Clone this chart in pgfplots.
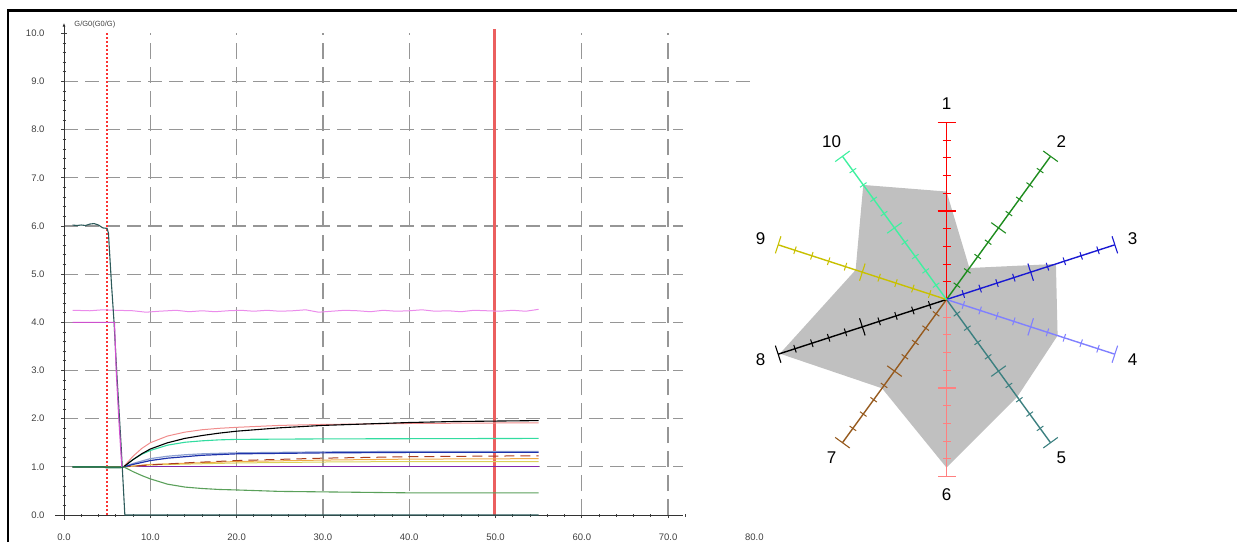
\documentclass[border=0pt]{standalone}
\usepackage{fontspec}
\setmainfont{Liberation Sans}
\usepackage{pgfplots}
\pgfplotsset{compat=1.18}
\usepgfplotslibrary{polar}
\usetikzlibrary{arrows.meta}

\definecolor{cteal}{RGB}{45,90,90}
\definecolor{cmag}{RGB}{205,80,205}
\definecolor{cpinkw}{RGB}{235,140,235}
\definecolor{csalmon}{RGB}{240,140,140}
\definecolor{cspring}{RGB}{50,220,160}
\definecolor{cdblue}{RGB}{30,50,170}
\definecolor{csteel}{RGB}{140,160,210}
\definecolor{cbrown}{RGB}{170,60,30}
\definecolor{corange}{RGB}{240,170,70}
\definecolor{cyellow}{RGB}{220,210,90}
\definecolor{cpurple}{RGB}{130,40,170}
\definecolor{cgreen}{RGB}{90,160,90}
\definecolor{cdgreen}{RGB}{40,120,80}
\definecolor{cgrid}{RGB}{150,150,150}
\definecolor{cred50}{RGB}{235,95,95}
\definecolor{cdotred}{RGB}{250,50,50}
% radar colours
\definecolor{r1}{RGB}{255,0,0}
\definecolor{r2}{RGB}{30,140,30}
\definecolor{r3}{RGB}{25,25,210}
\definecolor{r4}{RGB}{128,128,255}
\definecolor{r5}{RGB}{60,128,128}
\definecolor{r6}{RGB}{255,128,128}
\definecolor{r7}{RGB}{150,90,30}
\definecolor{r8}{RGB}{0,0,0}
\definecolor{r9}{RGB}{200,192,0}
\definecolor{r10}{RGB}{64,240,160}
\definecolor{cpoly}{RGB}{192,192,192}

\newcommand{\spoke}[2]{%
  \addplot[#2, line width=1.4pt] coordinates {(#1,0) (#1,1)};
  \addplot[#2, only marks, mark=|, mark size=4pt, mark options={rotate=#1, line width=1pt}]
    coordinates {(#1,0.1) (#1,0.2) (#1,0.3) (#1,0.4) (#1,0.6) (#1,0.7) (#1,0.8) (#1,0.9)};
  \addplot[#2, only marks, mark=|, mark size=9pt, mark options={rotate=#1, line width=1.1pt}]
    coordinates {(#1,0.5) (#1,1)};
}

\begin{document}
\begin{tikzpicture}
\path[use as bounding box] (0pt,0pt) rectangle (1237pt,542pt);
\draw[line width=2.7pt] (8pt,0pt) -- (8pt,531.5pt) -- (1237pt,531.5pt);

\begin{axis}[
  at={(64pt,27pt)}, anchor=south west,
  scale only axis, width=690.4pt, height=481.7pt,
  xmin=0, xmax=80, ymin=0, ymax=10,
  clip=false,
  axis line style={draw=none},
  xtick={0,10,...,70}, extra x ticks={80}, extra x tick style={major tick style={draw=none}},
  ytick={0,1,...,10},
  minor xtick={2,4,6,8,12,14,16,18,22,24,26,28,32,34,36,38,42,44,46,48,52,54,56,58,62,64,66,68,72},
  minor y tick num=4,
  xtick pos=bottom, ytick pos=left,
  tick align=center, major tick length=6pt, minor tick length=3pt,
  tick style={black!75, line width=0.8pt},
  xticklabel style={font=\fontsize{9.5}{10}\selectfont, text=black!75, yshift=-12pt},
  yticklabel style={font=\fontsize{9.5}{10}\selectfont, text=black!75, xshift=-13pt},
  /pgf/number format/.cd, fixed, fixed zerofill, precision=1, assume math mode=true
]
% grid
\pgfplotsinvokeforeach{1,2,3,4,5,6,7,8}{
  \draw[cgrid, line width=1.3pt, dash pattern=on 14pt off 7pt] (axis cs:0,#1) -- (axis cs:71.7,#1);
}
\draw[cgrid, line width=1.3pt, dash pattern=on 14pt off 7pt] (axis cs:0,9) -- (axis cs:79.5,9);
\pgfplotsinvokeforeach{10,20,30,40,50,60,70}{
  \draw[cgrid, line width=1.3pt, dash pattern=on 16pt off 8pt] (axis cs:#1,0) -- (axis cs:#1,10);
}
% axes
\draw[black!80, line width=0.9pt] (axis cs:-1,0) -- (axis cs:71.7,0);
\draw[black!80, line width=0.9pt, -{Latex[length=4pt,width=3pt]}] (axis cs:0,-0.1) -- (axis cs:0,10.22);
\node[anchor=west, font=\fontsize{7.5}{8}\selectfont, text=black!75] at (axis cs:0.8,10.18) {G/G0(G0/G)};

% cursor lines
\addplot[draw=cdotred, line width=1.5pt, dash pattern=on 2pt off 2pt] coordinates {(5,0) (5,10)};
\addplot[draw=cred50, line width=2.6pt] coordinates {(49.9,0) (49.9,10.08)};

% curves
\addplot[cpinkw, line width=1pt] coordinates {(1,4.25) (3,4.24) (4.5,4.26) (6,4.25) (8,4.24) (9.5,4.21) (11,4.23) (13,4.25) (14.5,4.22) (16,4.24) (17.5,4.22) (19,4.24) (20.5,4.25) (22,4.23) (23.5,4.25) (25,4.23) (26.5,4.24) (28,4.26) (29.5,4.21) (31,4.23) (32.5,4.25) (34,4.24) (35.5,4.22) (37,4.25) (38.5,4.23) (40,4.24) (41.5,4.26) (43,4.23) (44.5,4.24) (46,4.22) (47.5,4.25) (49,4.24) (50.5,4.23) (52,4.25) (53.5,4.23) (55,4.27)};
\addplot[cpurple, line width=1.2pt] coordinates {(1,1.0) (6.7,1.0) (55,1.0)};
\addplot[cyellow, line width=1pt] coordinates {(1,1.0) (6.9,1.0) (10,1.04) (15,1.06) (20,1.08) (30,1.10) (40,1.11) (55,1.11)};
\addplot[corange, line width=1pt] coordinates {(1,1.0) (6.9,1.0) (10,1.05) (15,1.08) (20,1.11) (30,1.14) (40,1.16) (55,1.17)};
\addplot[cbrown, line width=1pt, dash pattern=on 10pt off 6pt] coordinates {(1,1.0) (6.9,1.0) (10,1.04) (15,1.09) (20,1.13) (30,1.18) (40,1.21) (55,1.23)};
\addplot[csteel, line width=1.2pt] coordinates {(1,1.0) (6.9,1.0) (8,1.07) (10,1.17) (12,1.22) (14,1.25) (16,1.27) (20,1.29) (30,1.31) (40,1.32) (55,1.32)};
\addplot[cdblue, line width=1.2pt] coordinates {(1,1.0) (6.9,1.0) (8,1.05) (10,1.13) (12,1.18) (14,1.21) (16,1.24) (20,1.27) (30,1.29) (40,1.30) (55,1.30)};
\addplot[cspring, line width=1.1pt] coordinates {(1,1.0) (6.9,1.0) (8,1.15) (9,1.26) (10,1.34) (12,1.45) (14,1.51) (16,1.54) (18,1.56) (20,1.57) (30,1.58) (55,1.59)};
\addplot[csalmon, line width=1pt] coordinates {(1,1.0) (6.9,1.0) (7.5,1.12) (8,1.22) (9,1.38) (10,1.5) (12,1.64) (14,1.72) (16,1.77) (18,1.80) (20,1.82) (25,1.86) (30,1.88) (35,1.89) (40,1.90) (50,1.91) (55,1.91)};
\addplot[black, line width=1.1pt] coordinates {(1,1.0) (6.9,1.0) (8,1.15) (9,1.27) (10,1.37) (12,1.5) (14,1.59) (16,1.65) (18,1.70) (20,1.74) (25,1.81) (30,1.86) (35,1.89) (40,1.92) (45,1.94) (50,1.95) (55,1.96)};
\addplot[cgreen, line width=1.1pt] coordinates {(1,1.0) (6.9,1.0) (8,0.9) (9,0.82) (10,0.75) (12,0.64) (14,0.58) (16,0.55) (18,0.53) (20,0.52) (25,0.49) (30,0.48) (40,0.46) (55,0.46)};
\addplot[cdgreen, line width=1.4pt] coordinates {(1,1.0) (4.5,1.0) (5,0.98) (6.5,0.98) (6.9,1.0)};
\addplot[cteal, line width=1.1pt] coordinates {(1,6.02) (1.5,6.01) (2,6.02) (2.5,6.01) (3,6.04) (3.5,6.05) (4,6.02) (4.5,5.96) (5,5.95) (5.15,5.85) (5.5,4.8) (5.8,4.0) (6.1,3.0) (6.6,1.5) (7.05,0) (55,0)};
\addplot[cmag, line width=1.1pt] coordinates {(1,4.0) (5.85,4.0) (6.05,3.0) (6.35,2.0) (6.7,1.0)};
\end{axis}

\begin{polaraxis}[
  at={(946.5pt,242.5pt)}, anchor=center,
  scale only axis, width=354pt, height=354pt,
  xmin=0, xmax=360, ymin=0, ymax=1,
  hide axis, clip=false
]
\addplot[fill=cpoly, draw=none] coordinates {(90,0.61) (54,0.22) (18,0.65) (342,0.66) (306,0.68) (270,0.95) (234,0.62) (198,0.99) (162,0.54) (126,0.80) (90,0.61)};
\spoke{90}{r1}
\spoke{54}{r2}
\spoke{18}{r3}
\spoke{342}{r4}
\spoke{306}{r5}
\spoke{270}{r6}
\spoke{234}{r7}
\spoke{198}{r8}
\spoke{162}{r9}
\spoke{126}{r10}
\pgfplotsinvokeforeach{1,...,10}{
  \node[font=\fontsize{17}{17}\selectfont] at (axis cs:{90-36*(#1-1)},1.105) {#1};
}
\end{polaraxis}
\end{tikzpicture}
\end{document}
